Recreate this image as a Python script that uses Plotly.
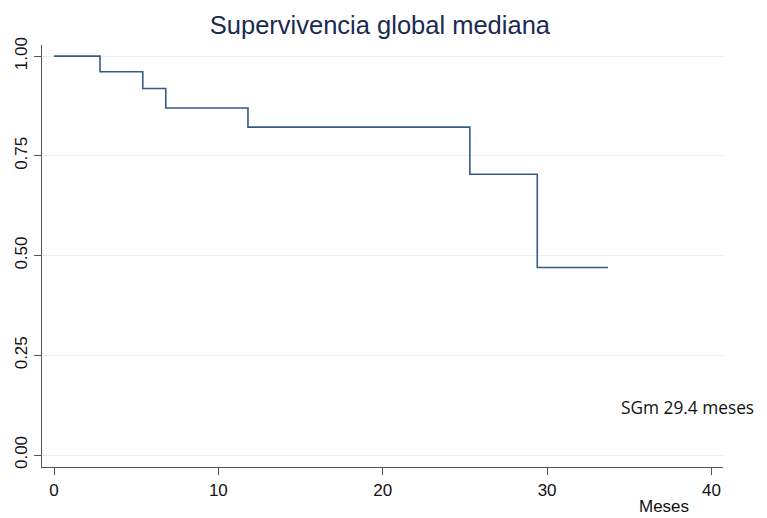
import plotly.graph_objects as go

# Kaplan-Meier step data (time in months, survival probability)
times = [0, 2.8, 5.4, 6.8, 11.8, 25.3, 29.4, 33.7]
surv = [1.00, 0.961, 0.919, 0.870, 0.822, 0.704, 0.470, 0.470]
x_ticks = [0, 10, 20, 30, 40]
y_ticks = [0.00, 0.25, 0.50, 0.75, 1.00]
y_tick_labels = ["0.00", "0.25", "0.50", "0.75", "1.00"]

fig = go.Figure()
fig.add_trace(go.Scatter(
    x=times, y=surv, mode="lines", line_shape="hv",
    line=dict(color="#365a84", width=1.6), showlegend=False, hoverinfo="skip"))

axis_font = dict(family="Liberation Sans, Arial, sans-serif", size=17, color="#111111")
fig.update_layout(
    width=759, height=510,
    paper_bgcolor="white", plot_bgcolor="white",
    margin=dict(l=34, r=44, t=37, b=51),
    title=dict(text="Supervivencia global mediana", x=0.49, xanchor="center",
               y=0.966, yanchor="middle",
               font=dict(family="Liberation Sans, Arial, sans-serif", size=25.5, color="#1b2a52")),
    xaxis=dict(range=[-0.73, 40.7], tickvals=x_ticks, ticks="outside", ticklen=7,
               tickcolor="#555555", showline=True, linecolor="#555555", linewidth=1.3,
               showgrid=False, zeroline=False, tickfont=axis_font, automargin=False),
    yaxis=dict(range=[-0.03, 1.028], tickvals=y_ticks, ticktext=y_tick_labels,
               ticks="outside", ticklen=7, tickcolor="#555555", tickangle=-90,
               showline=True, linecolor="#555555", linewidth=1.3,
               showgrid=True, gridcolor="#e6eff1", gridwidth=1, zeroline=False,
               tickfont=axis_font, automargin=False),
    annotations=[
        dict(text="Meses", xref="paper", yref="paper", x=0.914, y=-0.1209,
             xanchor="center", yanchor="bottom", showarrow=False,
             font=dict(family="Liberation Sans, Arial, sans-serif", size=17, color="#111111")),
        dict(text="SGm 29.4 meses", xref="paper", yref="paper", x=0.848, y=0.14,
             xanchor="left", yanchor="middle", showarrow=False,
             font=dict(family="Open Sans, sans-serif", size=17.3, color="#111111")),
    ],
)
fig.write_html("out.html")
